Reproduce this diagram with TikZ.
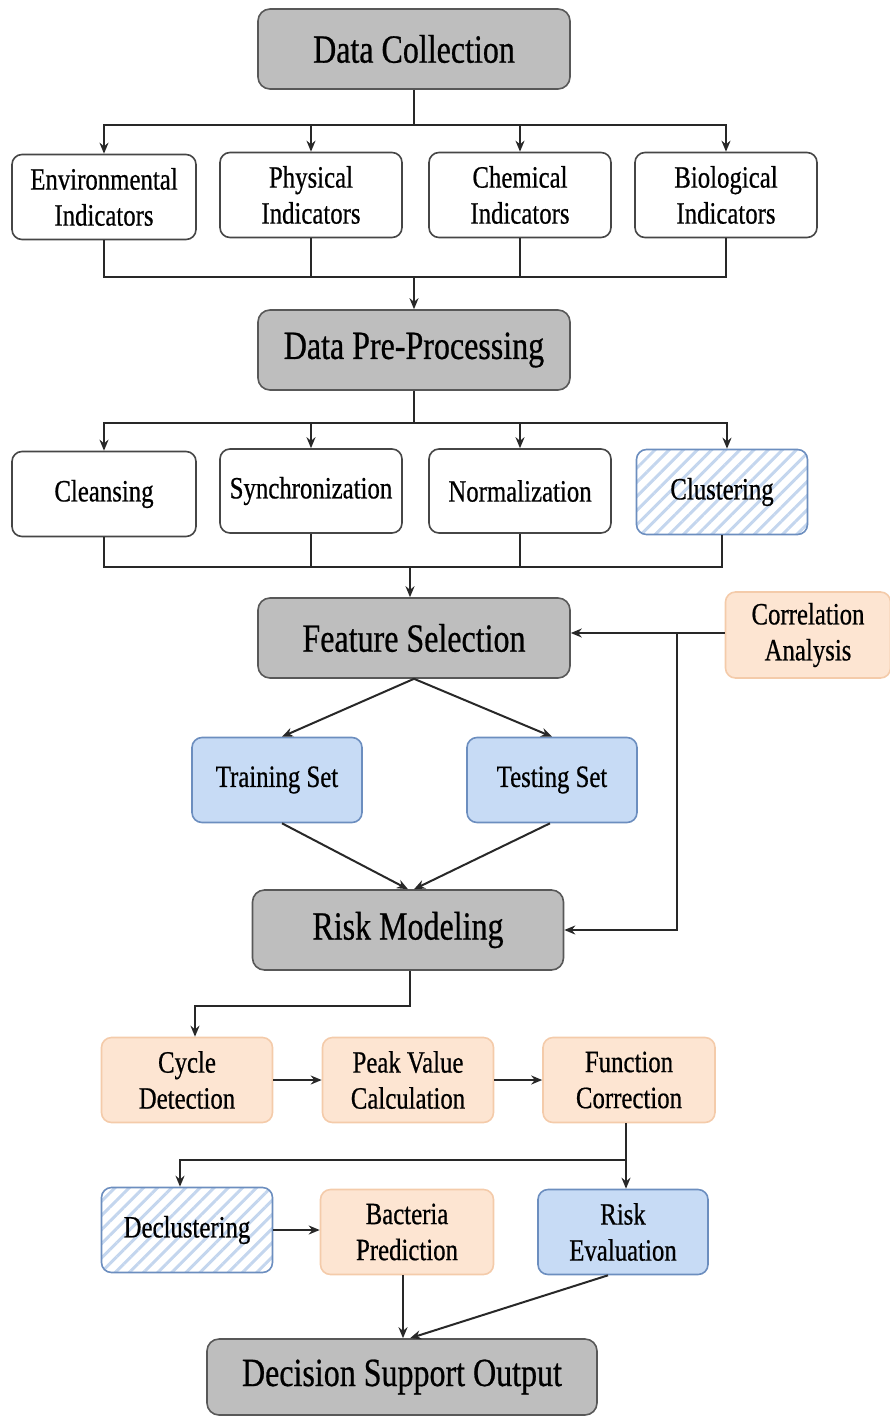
\documentclass[tikz,border=0pt]{standalone}
\usepackage{fontspec}
\setmainfont{Liberation Serif}
\newfontfamily\narrowserif[FakeStretch=0.8, FakeBold=0.6]{Liberation Serif}
\usepackage{tikz}
\usetikzlibrary{arrows.meta, positioning, calc, patterns.meta}

\definecolor{graybg}{RGB}{190,190,190}
\definecolor{grayedge}{RGB}{88,88,88}
\definecolor{darkedge}{RGB}{70,70,70}
\definecolor{linegray}{RGB}{40,40,40}
\definecolor{bluebg}{RGB}{199,219,245}
\definecolor{blueedge}{RGB}{108,142,191}
\definecolor{hatchblue}{RGB}{196,214,238}
\definecolor{orangebg}{RGB}{253,229,210}
\definecolor{orangeedge}{RGB}{244,203,170}

\newcommand{\bigtxt}{\narrowserif\fontsize{40}{46}\selectfont}
\newcommand{\smalltxt}{\narrowserif\fontsize{31}{36}\selectfont}

\begin{document}
\begin{tikzpicture}[x=1pt, y=-1pt, >={Stealth[length=11pt,width=9pt]},
    conn/.style={draw=linegray, line width=2pt},
    mainbox/.style={draw=grayedge, fill=graybg, rounded corners=12pt, line width=1.6pt,
        minimum width=312pt, minimum height=80pt, font=\bigtxt},
    plainbox/.style={draw=darkedge, fill=white, rounded corners=10pt, line width=1.6pt,
        minimum width=182pt, minimum height=85pt, align=center, font=\smalltxt},
    bluebox/.style={draw=blueedge, fill=bluebg, rounded corners=10pt, line width=1.6pt,
        minimum width=171pt, minimum height=85pt, align=center, font=\smalltxt},
    hatchbox/.style={draw=blueedge, pattern={Lines[angle=45,distance=10pt,line width=3pt]},
        pattern color=hatchblue, rounded corners=10pt, line width=1.6pt,
        minimum width=171pt, minimum height=85pt, align=center, font=\smalltxt},
    orangebox/.style={draw=orangeedge, fill=orangebg, rounded corners=10pt, line width=1.6pt,
        minimum width=171pt, minimum height=85pt, align=center, font=\smalltxt}]
    \useasboundingbox (0,0) rectangle (890,1416);

    % main column
    \node[mainbox] (collect) at (414,49) {Data Collection};
    \node[mainbox] (prep) at (414,350) {Data Pre-Processing};
    \node[mainbox] (featsel) at (414,638) {Feature Selection};
    \node[mainbox, minimum width=311pt] (riskmod) at (408,930) {Risk Modeling};
    \node[mainbox, minimum width=390pt, minimum height=76pt] (output) at (402,1377) {Decision Support Output};

    % indicators
    \node[plainbox, minimum width=184pt] (envind) at (104,197) {Environmental\\Indicators};
    \node[plainbox] (phyind) at (311,195) {Physical\\Indicators};
    \node[plainbox] (cheind) at (520,195) {Chemical\\Indicators};
    \node[plainbox] (bioind) at (726,195) {Biological\\Indicators};

    % pre-processing steps
    \node[plainbox, minimum width=184pt] (cleans) at (104,494) {Cleansing};
    \node[plainbox, minimum height=84pt] (sync) at (311,491) {Synchronization};
    \node[plainbox, minimum height=84pt] (normal) at (520,491) {Normalization};
    \node[hatchbox] (cluster) at (722,492) {Clustering};

    \node[orangebox, minimum width=165pt, minimum height=86pt] (corr) at (808,635) {Correlation\\Analysis};
    \node[bluebox, minimum width=170pt] (trainset) at (277,780) {Training Set};
    \node[bluebox, minimum width=170pt] (testset) at (552,780) {Testing Set};

    % modelling steps
    \node[orangebox] (cycle) at (187,1080) {Cycle\\Detection};
    \node[orangebox] (peak) at (408,1080) {Peak Value\\Calculation};
    \node[orangebox, minimum width=172pt] (funcor) at (629,1080) {Function\\Correction};
    \node[hatchbox] (declus) at (187,1230) {Declustering};
    \node[orangebox, minimum width=173pt] (bacpred) at (407,1232) {Bacteria\\Prediction};
    \node[bluebox, minimum width=170pt] (riskeval) at (623,1232) {Risk\\Evaluation};

    % buses
    \coordinate (busa) at (414,125);
    \coordinate (busb) at (414,277);
    \coordinate (busc) at (414,423);
    \coordinate (busd) at (410,567);
    \coordinate (buse) at (626,1160);
    \coordinate (corrjoin) at (677,633);

    \draw[conn] (collect.south) -- (busa);
    \foreach \n in {envind,phyind,cheind,bioind}
        \draw[conn, ->] (busa) -| (\n.north);
    \foreach \n in {envind,phyind,cheind,bioind}
        \draw[conn] (\n.south) |- (busb);
    \draw[conn, ->] (busb) -- (prep.north);

    \draw[conn] (prep.south) -- (busc);
    \foreach \n in {cleans,sync,normal}
        \draw[conn, ->] (busc) -| (\n.north);
    \draw[conn, ->] (busc) -| ([xshift=5pt]cluster.north);
    \foreach \n in {cleans,sync,normal,cluster}
        \draw[conn] (\n.south) |- (busd);
    \draw[conn, ->] (busd) -- (busd |- featsel.north);

    \draw[conn, ->] (corr.west |- corrjoin) -- (featsel.east |- corrjoin);
    \draw[conn, ->] (corrjoin) |- (riskmod.east);

    \draw[conn, ->] (featsel.south) -- ([xshift=5pt]trainset.north);
    \draw[conn, ->] (featsel.south) -- (testset.north);
    \draw[conn, ->] ([xshift=5pt]trainset.south) -- (riskmod.north);
    \draw[conn, ->] ([xshift=-2pt]testset.south) -- ([xshift=6pt]riskmod.north);

    \draw[conn, ->] ([xshift=2pt]riskmod.south) -- ++(0,35) -| ([xshift=8pt]cycle.north);
    \draw[conn, ->] (cycle.east) -- (peak.west);
    \draw[conn, ->] (peak.east) -- (funcor.west);

    \draw[conn] (funcor.south -| buse) -- (buse);
    \draw[conn, ->] (buse) -- (buse |- riskeval.north);
    \draw[conn, ->] (buse) -| ([xshift=-7pt]declus.north);
    \draw[conn, ->] (declus.east) -- (declus.east -| bacpred.west);

    \draw[conn, ->] ([xshift=-4pt]bacpred.south) -- ([xshift=1pt]output.north);
    \draw[conn, ->] ([xshift=-15pt]riskeval.south) -- ([xshift=8pt]output.north);
\end{tikzpicture}
\end{document}
